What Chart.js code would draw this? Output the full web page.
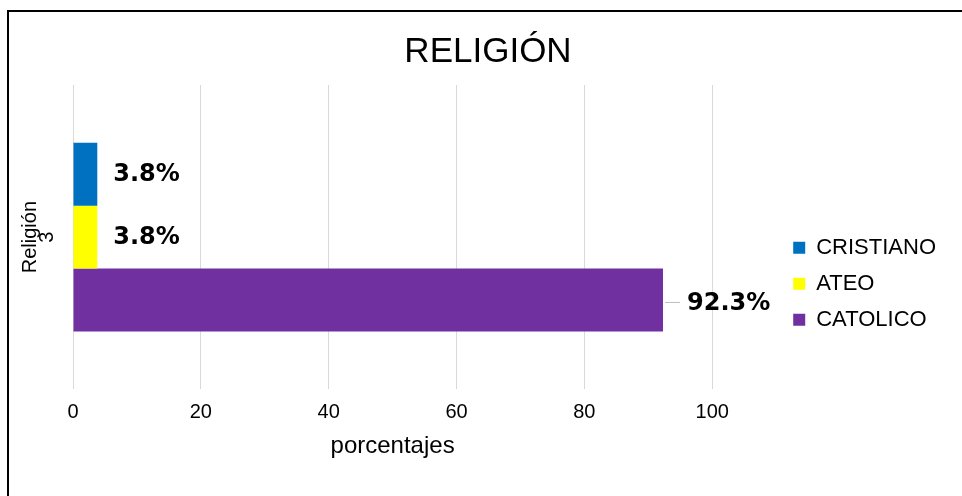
<!DOCTYPE html>
<html>
<head>
<meta charset="utf-8">
<script src="https://cdn.jsdelivr.net/npm/chart.js@4.4.1/dist/chart.umd.min.js"></script>
<style>
html, body { margin: 0; padding: 0; background: #fff; overflow: hidden; width: 962px; height: 496px; }
#frame { position: absolute; left: 7px; top: 10px; width: 1000px; height: 1000px; border-left: 2px solid #000; border-top: 2px solid #000; }
#wrap { position: absolute; left: 5px; top: 0; width: 962px; height: 496px; }
</style>
</head>
<body>
<div id="frame"></div>
<div id="wrap"><canvas id="chart"></canvas></div>
<script>
const categories = ['3'];
const seriesNames = ['CRISTIANO', 'ATEO', 'CATOLICO'];
const seriesValues = [[3.8], [3.8], [92.3]];
const seriesColors = ['#0070C0', '#FFFF00', '#7030A0'];
const xTicks = [0, 20, 40, 60, 80, 100];

const fam = '"Liberation Sans", Arial, sans-serif';

// percent labels next to each bar
const labelPlugin = {
    id: 'pctLabels',
    afterDatasetsDraw(chart) {
        const ctx = chart.ctx;
        const last = chart.data.datasets.length - 1;
        ctx.save();
        ctx.font = 'bold 24px "DejaVu Sans"';
        ctx.fillStyle = '#000';
        ctx.textBaseline = 'middle';
        chart.data.datasets.forEach((ds, i) => {
            const bar = chart.getDatasetMeta(i).data[0];
            const txt = ds.data[0].toFixed(1) + '%';
            if (i === last) {
                // leader line for the big bar label
                ctx.strokeStyle = '#bfbfbf';
                ctx.lineWidth = 1;
                ctx.beginPath();
                ctx.moveTo(bar.x + 2, bar.y + 2.5);
                ctx.lineTo(bar.x + 17, bar.y + 2.5);
                ctx.stroke();
                ctx.fillText(txt, bar.x + 24, bar.y + 4);
            } else {
                ctx.fillText(txt, bar.x + 16, bar.y + 1);
            }
        });
        ctx.restore();
    }
};

new Chart(document.getElementById('chart'), {
    type: 'bar',
    data: {
        labels: categories,
        datasets: seriesNames.map((name, i) => ({
            label: name,
            data: seriesValues[i],
            backgroundColor: seriesColors[i],
            borderWidth: 0,
            barPercentage: 1,
            categoryPercentage: 0.62
        }))
    },
    options: {
        indexAxis: 'y',
        responsive: true,
        maintainAspectRatio: false,
        animation: false,
        layout: { padding: { left: 4, right: 0, top: 0, bottom: 31.6 } },
        scales: {
            x: {
                min: 0,
                max: 100,
                afterBuildTicks: s => { s.ticks = xTicks.map(v => ({ value: v })); },
                grid: { color: '#d9d9d9', drawTicks: false },
                border: { display: false },
                ticks: { color: '#000', font: { size: 20, family: fam }, padding: 11 },
                title: {
                    display: true, text: 'porcentajes', color: '#000',
                    font: { size: 24, family: fam }, padding: { top: -3.6, bottom: 4 }
                }
            },
            y: {
                grid: { display: false },
                border: { display: false },
                ticks: {
                    color: '#000', font: { size: 20, family: fam },
                    minRotation: 90, maxRotation: 90, crossAlign: 'center', padding: 12
                },
                title: {
                    display: true, text: 'Religión', color: '#000',
                    font: { size: 20, family: fam }, padding: { top: 9, bottom: 0 }
                },
                afterFit: s => { s.width = 64; }
            },
            // empty space between plot and legend
            gap: {
                type: 'linear',
                position: 'right',
                grid: { display: false },
                border: { display: false },
                ticks: { display: false },
                afterFit: s => { s.width = 67; }
            },
            // empty space right of the legend
            pad: {
                type: 'linear',
                position: 'right',
                weight: 2000,
                grid: { display: false },
                border: { display: false },
                ticks: { display: false },
                afterFit: s => { s.width = 21; }
            }
        },
        plugins: {
            title: {
                display: true, text: 'RELIGIÓN', color: '#000',
                font: { size: 35, family: fam, weight: 'normal' },
                padding: { top: 31, bottom: 12 }
            },
            legend: {
                position: 'right',
                align: 'center',
                maxWidth: 170,
                title: { display: true, text: ' ', font: { size: 10 }, padding: { top: 91, bottom: 0 } },
                labels: {
                    boxWidth: 12, boxHeight: 12, padding: 14, color: '#000',
                    font: { size: 22, family: fam }
                }
            },
            tooltip: { enabled: false }
        }
    },
    plugins: [labelPlugin]
});
</script>
</body>
</html>
